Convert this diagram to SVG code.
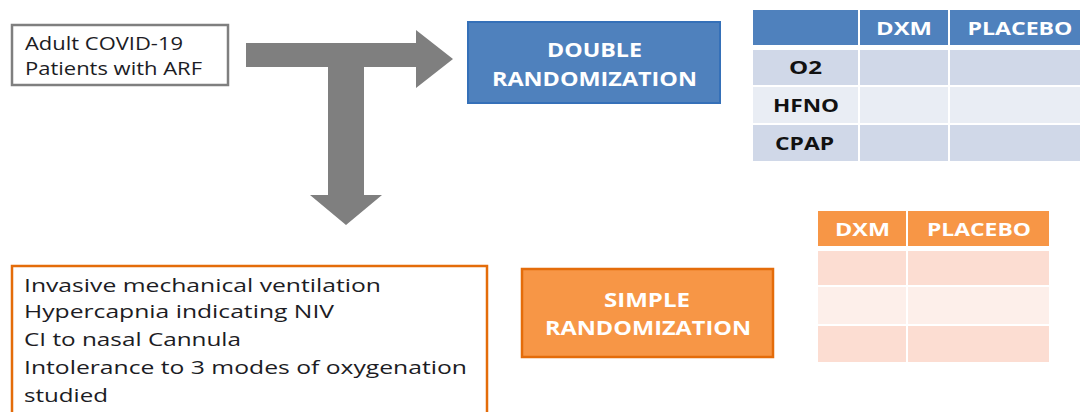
<svg xmlns="http://www.w3.org/2000/svg" width="1080" height="412" viewBox="0 0 1080 412">
<style>
  .reg { font-family: "Open Sans", "Liberation Sans", sans-serif; fill: #1c1c24; }
  .bold { font-family: "Open Sans", "Liberation Sans", sans-serif; font-weight: bold; }
  .white { fill: #ffffff; }
  .dark { fill: #111111; }
  .hdrB { fill: #4f81bd; }
  .rowB1 { fill: #d0d8e8; }
  .rowB2 { fill: #e9edf4; }
  .hdrO { fill: #f79646; }
  .rowO1 { fill: #fcddd2; }
  .rowO2 { fill: #fdefea; }
</style>
<rect x="0" y="0" width="1080" height="412" fill="#ffffff"/>

<g id="connectors">
  <polygon points="246,43 416,43 416,30 453,59 416,88 416,67 364,67 364,195 382,195 346,225 310,195 328,195 328,67 246,67" fill="#7f7f7f"/>
</g>

<g id="patients">
  <rect x="12" y="25" width="216" height="60" fill="#ffffff" stroke="#7f7f7f" stroke-width="2.5"/>
  <text class="reg" x="25" y="50" font-size="17.5" textLength="158" lengthAdjust="spacingAndGlyphs">Adult COVID-19</text>
  <text class="reg" x="25" y="75" font-size="17.5" textLength="177" lengthAdjust="spacingAndGlyphs">Patients with ARF</text>
</g>

<g id="double-randomization">
  <rect x="468" y="22" width="252" height="81" fill="#4f81bd" stroke="#3570b8" stroke-width="2"/>
  <text class="bold white" x="594.5" y="57" font-size="19" text-anchor="middle" textLength="95" lengthAdjust="spacingAndGlyphs">DOUBLE</text>
  <text class="bold white" x="594.5" y="86" font-size="19" text-anchor="middle" textLength="205" lengthAdjust="spacingAndGlyphs">RANDOMIZATION</text>
</g>

<g id="table-double">
  <rect class="hdrB" x="753" y="10" width="105" height="35"/>
  <rect class="hdrB" x="860" y="10" width="88" height="35"/>
  <rect class="hdrB" x="950" y="10" width="130" height="35"/>
  <rect class="rowB1" x="753" y="50" width="105" height="35"/>
  <rect class="rowB1" x="860" y="50" width="88" height="35"/>
  <rect class="rowB1" x="950" y="50" width="130" height="35"/>
  <rect class="rowB2" x="753" y="87" width="105" height="36"/>
  <rect class="rowB2" x="860" y="87" width="88" height="36"/>
  <rect class="rowB2" x="950" y="87" width="130" height="36"/>
  <rect class="rowB1" x="753" y="125" width="105" height="36"/>
  <rect class="rowB1" x="860" y="125" width="88" height="36"/>
  <rect class="rowB1" x="950" y="125" width="130" height="36"/>
  <text class="bold white" x="904" y="35" font-size="17.5" text-anchor="middle" textLength="56" lengthAdjust="spacingAndGlyphs">DXM</text>
  <text class="bold white" x="1020" y="35" font-size="17.5" text-anchor="middle" textLength="105" lengthAdjust="spacingAndGlyphs">PLACEBO</text>
  <text class="bold dark" x="805.5" y="74" font-size="18" text-anchor="middle" textLength="33" lengthAdjust="spacingAndGlyphs">O2</text>
  <text class="bold dark" x="806" y="112" font-size="18" text-anchor="middle" textLength="66" lengthAdjust="spacingAndGlyphs">HFNO</text>
  <text class="bold dark" x="804.5" y="150" font-size="18" text-anchor="middle" textLength="59" lengthAdjust="spacingAndGlyphs">CPAP</text>
</g>

<g id="exclusions">
  <rect x="12" y="266" width="475" height="160" fill="#ffffff" stroke="#e46c0a" stroke-width="2.5"/>
  <text class="reg" x="24" y="292" font-size="18" textLength="357" lengthAdjust="spacingAndGlyphs">Invasive mechanical ventilation</text>
  <text class="reg" x="24" y="318" font-size="18" textLength="310" lengthAdjust="spacingAndGlyphs">Hypercapnia indicating NIV</text>
  <text class="reg" x="24" y="346" font-size="18" textLength="217" lengthAdjust="spacingAndGlyphs">CI to nasal Cannula</text>
  <text class="reg" x="24" y="374" font-size="18" textLength="443" lengthAdjust="spacingAndGlyphs">Intolerance to 3 modes of oxygenation</text>
  <text class="reg" x="24" y="402" font-size="18" textLength="84" lengthAdjust="spacingAndGlyphs">studied</text>
</g>

<g id="simple-randomization">
  <rect x="522" y="269" width="251" height="88" fill="#f79646" stroke="#e46c0a" stroke-width="2.5"/>
  <text class="bold white" x="647" y="307" font-size="19" text-anchor="middle" textLength="86" lengthAdjust="spacingAndGlyphs">SIMPLE</text>
  <text class="bold white" x="648" y="335" font-size="19" text-anchor="middle" textLength="206" lengthAdjust="spacingAndGlyphs">RANDOMIZATION</text>
</g>

<g id="table-simple">
  <rect class="hdrO" x="818" y="211" width="88" height="35"/>
  <rect class="hdrO" x="908" y="211" width="141" height="35"/>
  <rect class="rowO1" x="818" y="251" width="88" height="34"/>
  <rect class="rowO1" x="908" y="251" width="141" height="34"/>
  <rect class="rowO2" x="818" y="287" width="88" height="37"/>
  <rect class="rowO2" x="908" y="287" width="141" height="37"/>
  <rect class="rowO1" x="818" y="326" width="88" height="36"/>
  <rect class="rowO1" x="908" y="326" width="141" height="36"/>
  <text class="bold white" x="862.5" y="236" font-size="17.5" text-anchor="middle" textLength="55" lengthAdjust="spacingAndGlyphs">DXM</text>
  <text class="bold white" x="979" y="236" font-size="17.5" text-anchor="middle" textLength="104" lengthAdjust="spacingAndGlyphs">PLACEBO</text>
</g>
</svg>
